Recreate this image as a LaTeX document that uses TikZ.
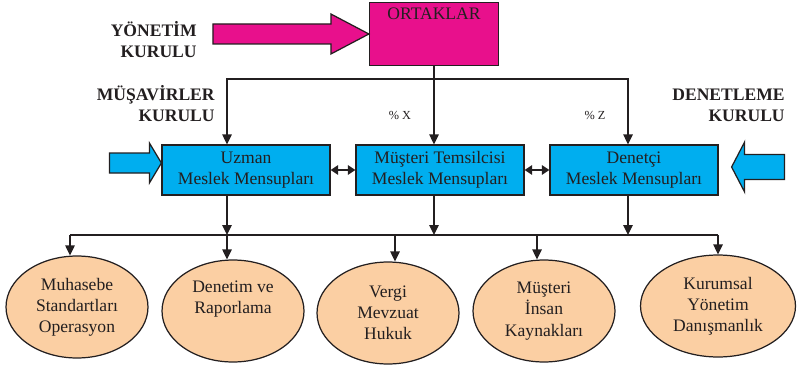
\documentclass[tikz,border=0pt]{standalone}
\usepackage{fontspec}
\setmainfont{Liberation Serif}
\usetikzlibrary{arrows.meta, shapes.geometric}

\begin{document}
\begin{tikzpicture}[x=0.02cm, y=-0.02cm,
		every node/.style={text=koyu},
		cizgi/.style={draw=koyu, line width=0.7pt},
		ok/.style={cizgi, -{Triangle[length=2mm, width=1.9mm]}},
		ciftok/.style={cizgi, {Triangle[length=1.5mm, width=1.9mm]}-{Triangle[length=1.5mm, width=1.9mm]}},
		kutu/.style={cizgi, fill=mavi, minimum width=3.36cm, minimum height=1cm, align=center, inner sep=0pt},
		balon/.style={cizgi, ellipse, fill=seftali, minimum width=2.84cm, minimum height=2.04cm, align=center, inner sep=0pt},
		kurul/.style={font=\bfseries, align=right, anchor=east, inner sep=0pt}]
		\definecolor{koyu}{HTML}{231F20}
		\definecolor{pembe}{HTML}{E8108C}
		\definecolor{mavi}{HTML}{00AEEF}
		\definecolor{seftali}{HTML}{FBCFA3}
		\useasboundingbox (0,0) rectangle (800,368);

		\node[cizgi, fill=pembe, minimum width=2.58cm, minimum height=1.26cm] (ortaklar) at (434,34) {};
		\node[anchor=north, inner sep=0pt] (ortaklarYazi) at (434,8) {ORTAKLAR};

		\node[kutu] (uzman) at (246,170) {Uzman\\Meslek Mensupları};
		\node[kutu] (temsilci) at (440,170) {Müşteri Temsilcisi\\Meslek Mensupları};
		\node[kutu] (denetci) at (634,170) {Denetçi\\Meslek Mensupları};

		\node[balon] (muhasebe) at (77,307) {Muhasebe\\Standartları\\Operasyon};
		\node[balon] (denetim) at (233,311) {Denetim ve\\Raporlama\\[4pt]};
		\node[balon] (vergi) at (388,313) {Vergi\\Mevzuat\\Hukuk};
		\node[balon] (insan) at (544,311) {Müşteri\\İnsan\\Kaynakları};
		\node[balon, minimum width=3.1cm] (kurumsal) at (718,306) {Kurumsal\\Yönetim\\Danışmanlık};

		\node[kurul] (yonetim) at (197,40) {YÖNETİM\\KURULU};
		\node[kurul] (musavir) at (215,104) {MÜŞAVİRLER\\KURULU};
		\node[kurul] (denetleme) at (785,105) {DENETLEME\\KURULU};
		\node[font=\scriptsize] (payX) at (400,115) {\% X};
		\node[font=\scriptsize] (payZ) at (595,115) {\% Z};

		\draw[cizgi, fill=pembe] (ortaklar.west) -- ++(-38,-20) -- ++(0,10) -- ++(-118,0) -- ++(0,20) -- ++(118,0) -- ++(0,10) -- cycle;
		\draw[cizgi, fill=mavi] (uzman.west) ++(0,-7) -- ++(-12,-20) -- ++(0,10) -- ++(-40,0) -- ++(0,20) -- ++(40,0) -- ++(0,10) -- cycle;
		\draw[cizgi, fill=mavi] (denetci.east) ++(13,-3) -- ++(13,-25) -- ++(0,12.5) -- ++(40,0) -- ++(0,25) -- ++(-40,0) -- ++(0,12.5) -- cycle;

		\coordinate (ust) at (434,79);
		\coordinate (uUst) at ([xshift=-0.38cm]uzman.north);
		\coordinate (dUst) at ([xshift=-0.12cm]denetci.north);
		\draw[ok] (ortaklar.south) -- (ortaklar.south |- temsilci.north);
		\draw[ok] (ust) -| (uUst);
		\draw[ok] (ust) -| (dUst);
		\draw[ciftok] (uzman) -- (temsilci);
		\draw[ciftok] (temsilci) -- (denetci);

		\coordinate (a1) at (70,235);
		\coordinate (a2) at (227,235);
		\coordinate (a3) at (395,235);
		\coordinate (a4) at (537,235);
		\coordinate (a5) at (718,235);
		\coordinate (uAlt) at ([xshift=-0.38cm]uzman.south);
		\coordinate (tAlt) at ([xshift=-0.12cm]temsilci.south);
		\coordinate (dAlt) at ([xshift=-0.12cm]denetci.south);
		\draw[ok] (uAlt) -- (uAlt |- a1);
		\draw[ok] (tAlt) -- (tAlt |- a1);
		\draw[ok] (dAlt) -- (dAlt |- a1);
		\draw[cizgi] (a1) -- (a5);
		\draw[ok] (a1) -- (a1 |- muhasebe.north);
		\draw[ok] (a2) -- (a2 |- denetim.north);
		\draw[ok] (a3) -- (a3 |- vergi.north);
		\draw[ok] (a4) -- (a4 |- insan.north);
		\draw[ok] (a5) -- (a5 |- kurumsal.north);
	\end{tikzpicture}
\end{document}
